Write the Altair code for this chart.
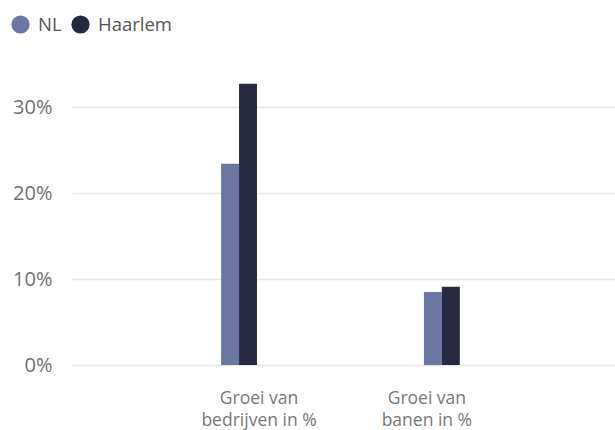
import altair as alt
import pandas as pd

# Categories (axis labels use "\n" for the line break)
categories = ["Groei van\nbedrijven in %", "Groei van\nbanen in %"]
series = ["NL", "Haarlem"]
nl_values = [0.234, 0.085]
haarlem_values = [0.327, 0.091]
colors = ["#6b76a3", "#262940"]
y_ticks = [0, 0.1, 0.2, 0.3]

rows = []
for cat, nl, hl in zip(categories, nl_values, haarlem_values):
    rows.append({"categorie": cat, "reeks": "NL", "waarde": nl})
    rows.append({"categorie": cat, "reeks": "Haarlem", "waarde": hl})
df = pd.DataFrame(rows)

FONT = "Open Sans"

chart = (
    alt.Chart(df)
    .mark_bar()
    .encode(
        x=alt.X(
            "categorie:N",
            sort=categories,
            title=None,
            scale=alt.Scale(paddingInner=0.823, paddingOuter=0.75, align=0.49),
            axis=alt.Axis(
                labelAngle=0,
                labelExpr="split(datum.label, '\\n')",
                labelFont=FONT,
                labelFontSize=17.5,
                labelColor="#777777",
                labelLineHeight=22,
                labelPadding=24,
                labelOffset=alt.expr(
                    "indexof(datum.value, 'bedrijven') >= 0 ? 20 : -15"
                ),
                domain=False,
                ticks=False,
                grid=False,
            ),
        ),
        xOffset=alt.XOffset(
            "reeks:N",
            sort=series,
            scale=alt.Scale(paddingInner=0, paddingOuter=0),
        ),
        y=alt.Y(
            "waarde:Q",
            title=None,
            scale=alt.Scale(domain=[0, 0.35], nice=False),
            axis=alt.Axis(
                values=y_ticks,
                format=".0%",
                labelFont=FONT,
                labelFontSize=20,
                labelColor="#6f6f6f",
                labelPadding=20,
                domain=False,
                ticks=False,
                gridColor="#e6e6e6",
                gridWidth=1.5,
            ),
        ),
        color=alt.Color(
            "reeks:N",
            sort=series,
            scale=alt.Scale(domain=series, range=colors),
            legend=alt.Legend(
                title=None,
                orient="none",
                direction="horizontal",
                legendX=-61,
                legendY=-49,
                symbolType="circle",
                symbolSize=330,
                symbolStrokeWidth=0,
                labelFont=FONT,
                labelFontSize=18.5,
                labelColor="#555555",
                labelOffset=8,
                columnPadding=9,
            ),
        ),
    )
    .properties(
        width=543,
        height=301,
        background="white",
        autosize=alt.AutoSizeParams(type="none"),
        padding={"left": 72, "top": 64, "right": 0, "bottom": 65},
    )
    .configure_view(strokeWidth=0, stroke="transparent")
)

chart.save("out.html", embed_options={"renderer": "svg", "actions": False})
